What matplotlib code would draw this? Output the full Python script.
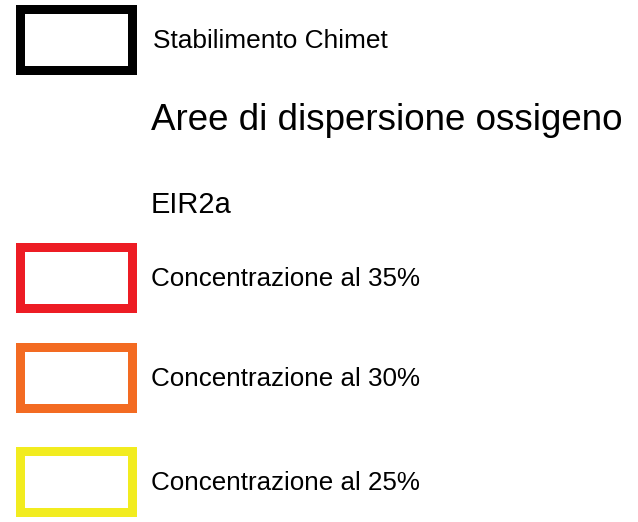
import matplotlib.pyplot as plt
from matplotlib.patches import Rectangle

# legend content
site_label = "Stabilimento Chimet"
title = "Aree di dispersione ossigeno"
scenario = "EIR2a"
conc_labels = ["Concentrazione al 35%", "Concentrazione al 30%", "Concentrazione al 25%"]
conc_colors = ["#ED1C24", "#F36B22", "#F2EC1F"]

W, H = 638, 522
fig = plt.figure(figsize=(W / 100, H / 100), dpi=100)
ax = fig.add_axes([0, 0, 1, 1])
ax.set_xlim(0, W)
ax.set_ylim(H, 0)
ax.axis("off")

px = 0.72  # pixels -> points at dpi 100
font = "Liberation Sans"


def box(y_top, color):
    # outer box 15..136 x y_top..y_top+70, border about 9 px
    lw = 9
    r = Rectangle((15 + lw / 2, y_top + lw / 2), 121 - lw, 70 - lw,
                  fill=False, edgecolor=color, linewidth=lw * px,
                  joinstyle="miter")
    ax.add_patch(r)


box(4, "black")
ax.text(153, 47.5, site_label, fontsize=26.2 * px, family=font, va="baseline")
ax.text(151, 129.5, title, fontsize=36.8 * px, family=font, va="baseline")
ax.text(151, 213, scenario, fontsize=29 * px, family=font, va="baseline")

row_tops = [242, 342, 446]
for i, (lab, col) in enumerate(zip(conc_labels, conc_colors)):
    box(row_tops[i], col)
    ax.text(151, row_tops[i] + 44, lab, fontsize=26 * px, family=font,
            va="baseline")

fig.savefig("out.png", dpi=100)
